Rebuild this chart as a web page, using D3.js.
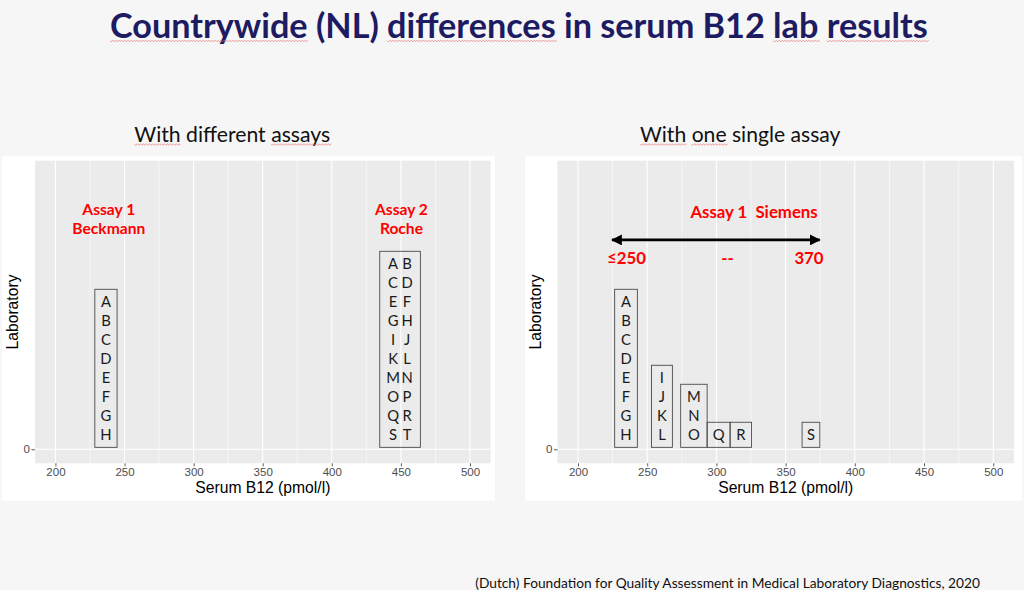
<!DOCTYPE html>
<html>
<head>
<meta charset="utf-8">
<script src="https://cdn.jsdelivr.net/npm/d3@7"></script>
<style>
  body { margin: 0; background: #f6f6f6; }
  svg { display: block; }
</style>
</head>
<body>
<svg id="chart" width="1024" height="590"></svg>
<script>
// ---- values ----
const xTicks = [200, 250, 300, 350, 400, 450, 500]
const xMinor = [225, 275, 325, 375, 425, 475]
const yTicks = [0]

// left panel: labs grouped per assay
const assayLabs = [
  ['A', 'B', 'C', 'D', 'E', 'F', 'G', 'H'],
  ['A', 'B', 'C', 'D', 'E', 'F', 'G', 'H', 'I', 'J', 'K', 'L', 'M', 'N', 'O', 'P', 'Q', 'R', 'S', 'T']
]
const assayLow = [228.5, 434.7]
const assayHigh = [244.6, 464.1]
const assayColumns = [1, 2]
const assayNames = [['Assay 1', 'Beckmann'], ['Assay 2', 'Roche']]
const assayNameAt = [238.6, 450.4]

// right panel: one assay, labs per result bin
const siemensLabs = [
  ['A', 'B', 'C', 'D', 'E', 'F', 'G', 'H'],
  ['I', 'J', 'K', 'L'],
  ['M', 'N', 'O'],
  ['Q'],
  ['R'],
  ['S']
]
const siemensLow = [226.5, 253.1, 274.2, 293.3, 309.9, 361.9]
const siemensHigh = [242.9, 268.2, 293.3, 309.9, 325.4, 374.7]
const siemensName = 'Assay 1  Siemens'
const siemensNameAt = 327.2
const rangeEnds = [224.6, 374.6]
const rangeLabels = ['≤250', '--', '370']
const rangeLabelAt = [235, 308, 366.9]

const svg = d3.select('#chart')
const red = '#ff0000'
const calibri = 'Lato, "Open Sans", sans-serif'
const arial = '"Liberation Sans", Arial, sans-serif'

svg.append('rect').attr('width', 1024).attr('height', 590).attr('fill', '#f6f6f6')

// arrow heads
const defs = svg.append('defs')
defs.append('marker')
  .attr('id', 'head')
  .attr('viewBox', '0 0 10 10')
  .attr('refX', 9).attr('refY', 5)
  .attr('markerWidth', 4.2).attr('markerHeight', 4.2)
  .attr('orient', 'auto-start-reverse')
  .append('path')
  .attr('d', 'M0,0 L10,5 L0,10 Z')
  .attr('fill', '#000')

// shrink or grow a text so that it spans a given width
function fitWidth(sel, width) {
  const node = sel.node()
  const fs = parseFloat(sel.attr('font-size'))
  sel.attr('font-size', fs * width / node.getComputedTextLength())
}

// red wavy spell-check line under a word
function squiggle(span, yLine) {
  const b = span.getBBox()
  const lead = span.textContent.startsWith(' ') ? span.getSubStringLength(0, 1) : 0
  const x0 = b.x + lead
  let d = `M${x0},${yLine}`
  for (let x = x0, i = 0; x < b.x + b.width; x += 1.5, i++) {
    d += ` L${x + 1.5},${yLine + (i % 2 ? -0.8 : 0.8)}`
  }
  svg.append('path').attr('d', d).attr('fill', 'none')
    .attr('stroke', '#e8706e').attr('stroke-width', 0.8).attr('opacity', 0.8)
}

function wordText(words, x, y, size, width, weight, color) {
  const t = svg.append('text')
    .attr('x', x).attr('y', y)
    .attr('font-family', calibri)
    .attr('font-size', size)
    .attr('font-weight', weight)
    .attr('fill', color)
  const spans = words.map((w, i) => t.append('tspan').text((i ? ' ' : '') + w).node())
  fitWidth(t, width)
  return spans
}

// ---- page title ----
const titleWords = ['Countrywide', '(NL)', 'differences', 'in', 'serum', 'B12', 'lab', 'results']
const titleSpans = wordText(titleWords, 110, 38.3, 32, 818, 700, '#1d1b62')
;[0, 2, 6, 7].forEach(i => squiggle(titleSpans[i], 41))

// ---- one panel ----
function drawPanel(p) {
  svg.append('rect')
    .attr('x', p.left).attr('y', 155.7)
    .attr('width', p.right - p.left).attr('height', 345)
    .attr('fill', '#ffffff')

  const x = d3.scaleLinear().domain([185.2, 515]).range([p.plotL, p.plotR])
  const y = d3.scaleLinear().domain([-0.74, 15.19]).range([463.3, 160.7])

  svg.append('rect')
    .attr('x', p.plotL).attr('y', y(15.19))
    .attr('width', p.plotR - p.plotL).attr('height', y(-0.74) - y(15.19))
    .attr('fill', '#ebebeb')

  const grid = svg.append('g')
  grid.selectAll('.minor').data(xMinor).enter().append('line')
    .attr('x1', d => x(d)).attr('x2', d => x(d))
    .attr('y1', y(15.19)).attr('y2', y(-0.74))
    .attr('stroke', '#fff').attr('stroke-width', 0.55)
  grid.selectAll('.major').data(xTicks).enter().append('line')
    .attr('x1', d => x(d)).attr('x2', d => x(d))
    .attr('y1', y(15.19)).attr('y2', y(-0.74))
    .attr('stroke', '#fff').attr('stroke-width', 1.1)
  grid.selectAll('.hmajor').data(yTicks).enter().append('line')
    .attr('x1', p.plotL).attr('x2', p.plotR)
    .attr('y1', d => y(d)).attr('y2', d => y(d))
    .attr('stroke', '#fff').attr('stroke-width', 1.1)

  const bottomAxis = d3.axisBottom(x).tickValues(xTicks).tickSize(3).tickPadding(2)
  const leftAxis = d3.axisLeft(y).tickValues(yTicks).tickSize(3.5).tickPadding(1.5)

  const gx = svg.append('g')
    .attr('transform', `translate(0, ${y(-0.74)})`)
    .call(bottomAxis)
  const gy = svg.append('g')
    .attr('transform', `translate(${p.plotL}, 0)`)
    .call(leftAxis)
  ;[gx, gy].forEach(g => {
    g.select('.domain').remove()
    g.selectAll('line').attr('stroke', '#333').attr('stroke-width', 0.8)
    g.selectAll('text').attr('fill', '#4d4d4d').attr('font-size', 11.5).attr('font-family', arial)
  })

  svg.append('text')
    .text('Serum B12 (pmol/l)')
    .attr('x', (p.plotL + p.plotR) / 2).attr('y', 493)
    .attr('text-anchor', 'middle')
    .attr('font-family', arial).attr('font-size', 15.7)
    .attr('fill', '#000')

  svg.append('text')
    .text('Laboratory')
    .attr('transform', `translate(${p.plotL - 17}, ${y(7.225)}) rotate(-90)`)
    .attr('text-anchor', 'middle')
    .attr('font-family', arial).attr('font-size', 15.7)
    .attr('fill', '#000')

  // boxes of labs
  const boxes = p.labs.map((labs, i) => ({
    labs: labs, low: p.low[i], high: p.high[i], cols: p.cols[i],
    rows: Math.ceil(labs.length / p.cols[i])
  }))

  const boxGroup = svg.append('g')
  boxGroup.selectAll('rect')
    .data(boxes)
    .enter()
    .append('rect')
    .attr('x', d => x(d.low))
    .attr('y', d => y(d.rows + 0.42))
    .attr('width', d => x(d.high) - x(d.low))
    .attr('height', d => y(0.1) - y(d.rows + 0.42))
    .attr('fill', 'none')
    .attr('stroke', '#4a4a4a')
    .attr('stroke-width', 0.9)

  boxes.forEach(b => {
    const mid = (b.low + b.high) / 2
    b.labs.forEach((lab, k) => {
      const col = k % b.cols
      const row = b.rows - 1 - Math.floor(k / b.cols)
      const dx = b.cols === 1 ? 0 : (col === 0 ? -7 : 7)
      svg.append('text')
        .text(lab)
        .attr('x', x(mid) + dx)
        .attr('y', y(0.78 + row))
        .attr('dy', '0.36em')
        .attr('text-anchor', 'middle')
        .attr('font-family', calibri).attr('font-size', 14.8)
        .attr('fill', '#1a1a1a')
    })
  })

  p.extra(x, y)
}

function redLabel(text, xPos, yPos, size) {
  return svg.append('text')
    .text(text)
    .attr('x', xPos).attr('y', yPos)
    .attr('dy', '0.36em')
    .attr('text-anchor', 'middle')
    .attr('font-family', calibri).attr('font-size', size)
    .attr('font-weight', 700)
    .attr('fill', red)
    .style('white-space', 'pre')
}

drawPanel({
  left: 2, right: 495, plotL: 35, plotR: 490.7,
  labs: assayLabs, low: assayLow, high: assayHigh, cols: assayColumns,
  extra: (x, y) => {
    assayNames.forEach((lines, i) => {
      redLabel(lines[0], x(assayNameAt[i]), y(12.63), 15.6)
      redLabel(lines[1], x(assayNameAt[i]), y(11.65), 15.6)
    })
  }
})

drawPanel({
  left: 525, right: 1022, plotL: 557.5, plotR: 1014,
  labs: siemensLabs, low: siemensLow, high: siemensHigh, cols: siemensLabs.map(() => 1),
  extra: (x, y) => {
    redLabel(siemensName, x(siemensNameAt), y(12.47), 16.8)
    svg.append('line')
      .attr('x1', x(rangeEnds[0])).attr('x2', x(rangeEnds[1]))
      .attr('y1', y(11.02)).attr('y2', y(11.02))
      .attr('stroke', '#000').attr('stroke-width', 2.6)
      .attr('marker-start', 'url(#head)')
      .attr('marker-end', 'url(#head)')
    rangeLabels.forEach((lab, i) => redLabel(lab, x(rangeLabelAt[i]), y(10.05), 16.8))
  }
})

// ---- panel subtitles ----
const subLeft = wordText(['With', 'different', 'assays'], 134.3, 141.7, 19, 196, 400, '#111')
const subRight = wordText(['With', 'one', 'single', 'assay'], 640, 141.7, 19, 200.7, 400, '#111')
;[0, 2].forEach(i => squiggle(subLeft[i], 144.5))
;[0, 1].forEach(i => squiggle(subRight[i], 144.5))

// ---- source line ----
const src = svg.append('text')
  .text('(Dutch) Foundation for Quality Assessment in Medical Laboratory Diagnostics, 2020')
  .attr('x', 980).attr('y', 588.3)
  .attr('text-anchor', 'end')
  .attr('font-family', calibri).attr('font-size', 15)
  .attr('fill', '#111')
fitWidth(src, 505)
</script>
</body>
</html>
